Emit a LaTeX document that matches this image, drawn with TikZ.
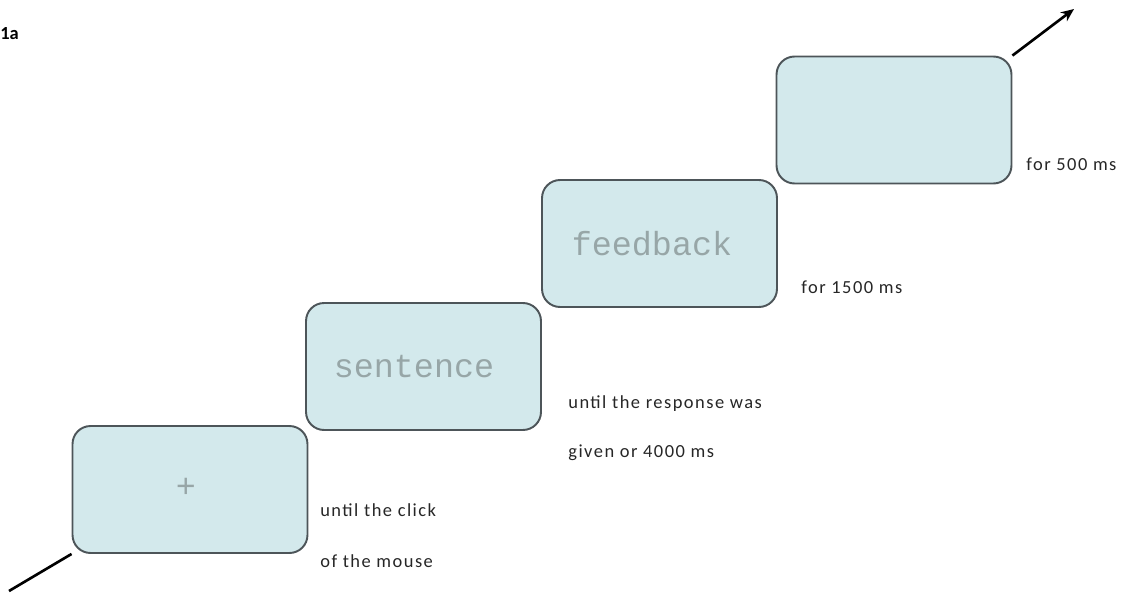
\documentclass[tikz,border=0pt]{standalone}
\usepackage{fontspec}
\setmainfont{Carlito}
\newfontfamily\labelfont[LetterSpace=8]{Carlito}
\newfontfamily\stimfont{Liberation Mono}
\usetikzlibrary{arrows.meta}

\definecolor{screenfill}{HTML}{D3E9EC}
\definecolor{screenline}{HTML}{4D5559}
\definecolor{stimgray}{HTML}{97A6A7}

\begin{document}
\begin{tikzpicture}[x=0.02cm,y=-0.02cm,
    screen/.style={draw=screenline,line width=1.1pt,fill=screenfill,rounded corners=0.36cm,
        minimum width=4.7cm,minimum height=2.54cm,inner sep=0pt},
    stim/.style={text=stimgray,font=\stimfont\fontsize{19}{19}\selectfont},
    timing/.style={anchor=base west,inner sep=0pt,font=\labelfont\fontsize{10.5}{12}\selectfont,text=black!85}]
    \useasboundingbox (0,0) rectangle (1126,592);

    % Panel label
    \node[anchor=base west,inner sep=0pt,font=\bfseries\fontsize{10.5}{12}\selectfont] (panel) at (0,39) {1a};

    % Fixation screen
    \node[screen] (fixation) at (190,489.5) {};
    \node[stim] (fixmark) at (186,488) {+};
    \node[timing] (fixlabA) at (320,516.5) {until the click};
    \node[timing] (fixlabB) at (320,567) {of the mouse};

    % Sentence screen
    \node[screen] (sentence) at (423.5,366.5) {};
    \node[stim] (senword) at (414,367) {sentence};
    \node[timing] (senlabA) at (568,408) {until the response was};
    \node[timing] (senlabB) at (568,457.5) {given or 4000 ms};

    % Feedback screen
    \node[screen] (feedback) at (659.5,243.5) {};
    \node[stim] (feedword) at (652,244) {feedback};
    \node[timing] (feedlab) at (801,293) {for 1500 ms};

    % Blank screen
    \node[screen] (blank) at (894,120) {};
    \node[timing] (blanklab) at (1026,170) {for 500 ms};

    % Time axis
    \coordinate (timestart) at (9,591);
    \coordinate (timeend) at (1074,9);
    \draw[line width=1.5pt] (timestart) -- (fixation.south west);
    \draw[line width=1.5pt,-{Stealth[length=0.26cm,width=0.22cm]}] (blank.north east) -- (timeend);

\end{tikzpicture}
\end{document}
